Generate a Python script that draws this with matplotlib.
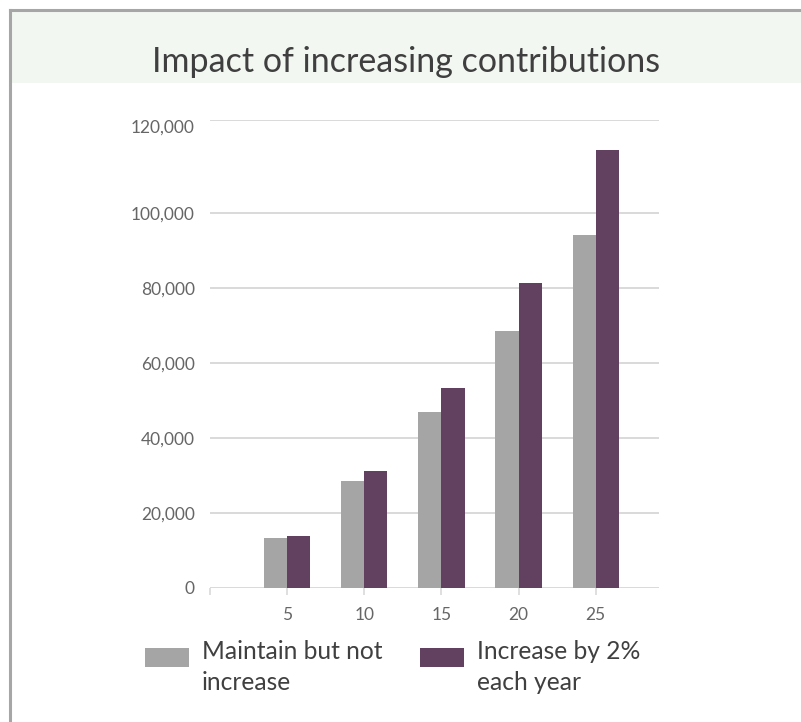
import matplotlib
matplotlib.use("Agg")
import matplotlib.pyplot as plt
from matplotlib.patches import Rectangle
from matplotlib.lines import Line2D
import matplotlib.transforms as mtransforms

# ---- data ----
years = [5, 10, 15, 20, 25]
maintain = [13300, 28500, 46900, 68500, 94100]
increase = [13900, 31200, 53300, 81300, 116800]
series_names = ["Maintain but not\nincrease", "Increase by 2%\neach year"]
ytick_vals = [0, 20000, 40000, 60000, 80000, 100000, 125000]
ytick_labels = ["0", "20,000", "40,000", "60,000", "80,000", "100,000", "120,000"]
title = "Impact of increasing contributions"

GREY = "#a5a5a5"
PURPLE = "#614060"
FONT = "Lato"

W, H = 801, 722
fig = plt.figure(figsize=(W / 100, H / 100), dpi=100)
fig.patch.set_facecolor("white")

def fx(px):
    return px / W

def fy(py):
    return 1 - py / H

# title band + border
fig.add_artist(Rectangle((fx(11), fy(83)), 1 - fx(11), fy(11) - fy(83),
                         transform=fig.transFigure, facecolor="#f2f7f2",
                         edgecolor="none", zorder=0))
fig.add_artist(Line2D([fx(9.5), 1], [fy(10), fy(10)], transform=fig.transFigure,
                      color="#a6a6a6", lw=2.2, zorder=1))
fig.add_artist(Line2D([fx(9.5), fx(9.5)], [fy(10), 0], transform=fig.transFigure,
                      color="#a6a6a6", lw=2.2, zorder=1))
fig.text(fx(406), fy(72), title, ha="center", va="baseline", fontsize=24.5,
         color="#3f3f3f", family=FONT)

# axes
ax = fig.add_axes([fx(210), fy(588), fx(659) - fx(210), fy(119.7) - fy(588)])
w = 1.5
ax.bar([y - w / 2 for y in years], maintain, width=w, color=GREY, zorder=2)
ax.bar([y + w / 2 for y in years], increase, width=w, color=PURPLE, zorder=2)
ax.set_xlim(0, 29.1)
ax.set_ylim(0, 125000)

for s in ["top", "right", "left", "bottom"]:
    ax.spines[s].set_visible(False)
ax.set_yticks(ytick_vals)
ax.set_yticklabels(ytick_labels)
ax.yaxis.grid(True, color="#d9d9d9", lw=1.4, zorder=0)
ax.tick_params(axis="y", length=0, pad=11, labelsize=12.5, labelcolor="#666666")
ax.set_xticks([0] + years)
ax.set_xticklabels([""] + [str(y) for y in years])
ax.tick_params(axis="x", length=5, width=1.2, color="#d9d9d9", pad=9,
               labelsize=12.5, labelcolor="#666666")
for lab in ax.get_xticklabels() + ax.get_yticklabels():
    lab.set_family(FONT)
# shift top label slightly down as in reference
toplab = ax.get_yticklabels()[-1]
toplab.set_transform(toplab.get_transform() +
                     mtransforms.ScaledTranslation(0, -6 / 100, fig.dpi_scale_trans))

# legend (manual)
leg_items = [(145, GREY, series_names[0], 202), (420, PURPLE, series_names[1], 477)]
for x0, col, name, tx in leg_items:
    fig.add_artist(Rectangle((fx(x0), fy(667)), fx(44), fy(648) - fy(667),
                             transform=fig.transFigure, facecolor=col,
                             edgecolor="none"))
    fig.text(fx(tx), fy(640), name, ha="left", va="top", fontsize=17.7,
             color="#404040", family=FONT, linespacing=1.42)

fig.savefig("out.png", dpi=100, facecolor="white")
